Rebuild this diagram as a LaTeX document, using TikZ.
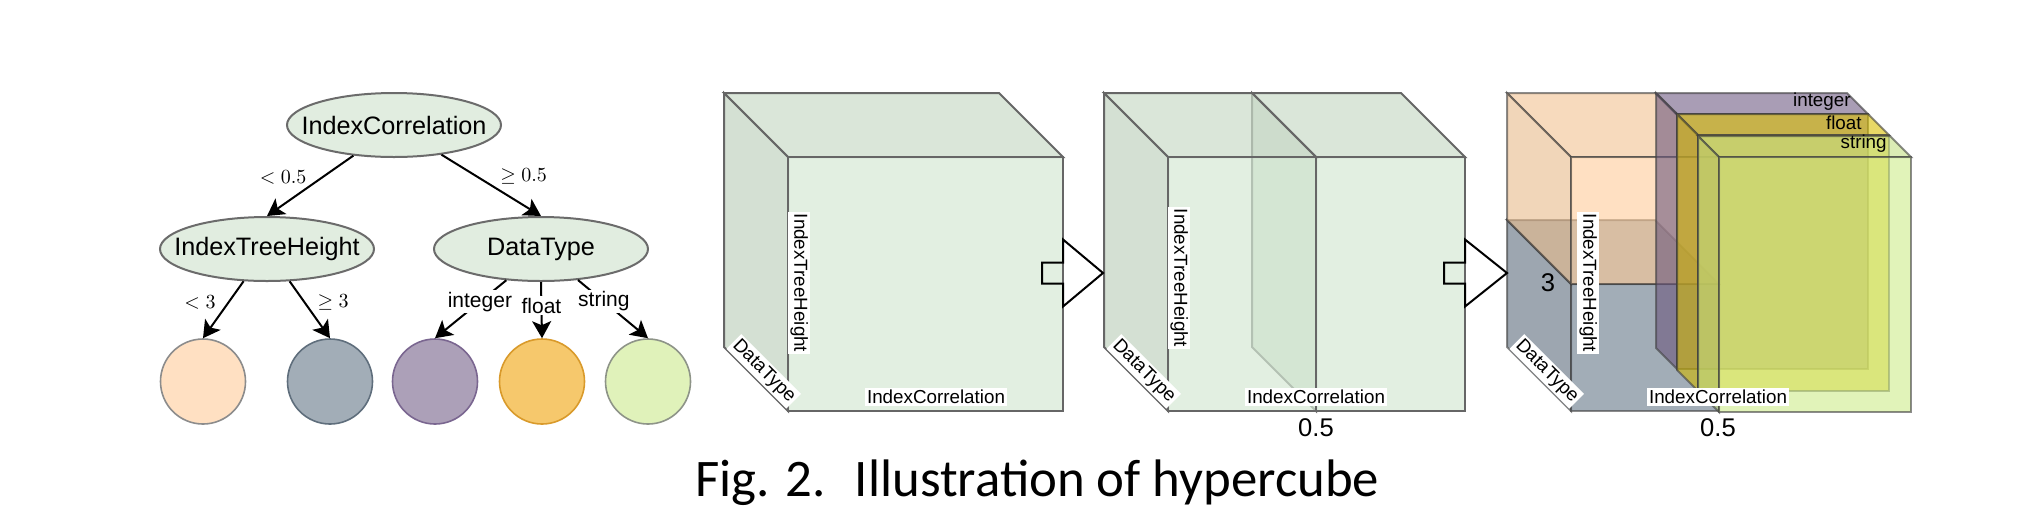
\documentclass[tikz,border=0pt]{standalone}
\usepackage{fontspec}
\usepackage{amsmath, amssymb}
\usepackage{tikz}
\usetikzlibrary{arrows.meta}
\usetikzlibrary{shapes.geometric}
\newfontfamily\arialfont{Liberation Sans}
\newfontfamily\captionfont{Carlito}

\definecolor{nodegreen}{HTML}{E1EDE0}
\definecolor{cubegreen}{HTML}{D5E8D4}
\definecolor{hcpeach}{HTML}{FFCC99}
\definecolor{hcslate}{HTML}{647687}
\definecolor{hcviolet}{HTML}{76608A}
\definecolor{hcyellow}{HTML}{E3C800}
\definecolor{hclime}{HTML}{CDEB8B}
\definecolor{leafpeach}{HTML}{FFE0C2}
\definecolor{leafslate}{HTML}{A2ADB7}
\definecolor{leafviolet}{HTML}{ACA0B8}
\definecolor{leafamber}{HTML}{F6C86C}
\definecolor{leaflime}{HTML}{E0F2BA}
\definecolor{rimslate}{HTML}{5F6E7C}
\definecolor{rimviolet}{HTML}{7A6690}
\definecolor{rimamber}{HTML}{D99A2B}
\definecolor{rimlime}{HTML}{8E9488}

\newcommand{\cuboid}[7][]{%
	\filldraw[#1, fill=#7!95!black] (#2,#3) -- ++(-#6,-#6) -- ++(#4,0) -- ++(#6,#6) -- cycle;
	\filldraw[#1, fill=#7!91!black] (#2,#3) -- ++(-#6,-#6) -- ++(0,#5) -- ++(#6,#6) -- cycle;
	\filldraw[#1, fill=#7] (#2,#3) rectangle ++(#4,#5);
}
\newcommand{\blockarrow}[2]{%
	\draw[blockarrow] ([shift={(-21,-10.5)}]#1) -- ([shift={(0,-10.5)}]#1) -- ([shift={(0,-33.5)}]#1) -- (#2)
		-- ([shift={(0,33.5)}]#1) -- ([shift={(0,10.5)}]#1) -- ([shift={(-21,10.5)}]#1) -- cycle;
}

\begin{document}
\begin{tikzpicture}[x=0.5pt, y=-0.5pt,
		treenode/.style={ellipse, draw=black!58, line width=1pt, fill=nodegreen, inner sep=0pt,
			minimum width=107pt, minimum height=32pt, font=\arialfont\fontsize{12.6}{15}\selectfont},
		leaf/.style={circle, line width=.8pt, minimum size=42.5pt, inner sep=0pt},
		treeedge/.style={-{Stealth[length=8.5pt, width=9.5pt, inset=2pt]}, line width=1pt},
		edgemath/.style={inner sep=1pt, font=\fontsize{10}{12}\selectfont},
		edgetext/.style={fill=white, inner sep=1pt, font=\arialfont\fontsize{10.5}{12}\selectfont},
		cubeface/.style={draw=black!60, line width=1pt, fill opacity=.7},
		glassface/.style={draw=black!75, draw opacity=.6, line width=1pt, fill opacity=.6},
		axislabel/.style={fill=white, inner sep=1pt, font=\arialfont\fontsize{9.4}{11}\selectfont},
		valuelabel/.style={inner sep=0pt, font=\arialfont\fontsize{12.8}{14}\selectfont},
		blockarrow/.style={draw=black, line width=1pt, line join=miter}
	]
	\useasboundingbox (0,0) rectangle (2032,526);

	\node[treenode] (corr) at (394,125) {\makebox[0pt]{IndexCorrelation}};
	\node[treenode] (height) at (267,249) {\makebox[0pt]{IndexTreeHeight}};
	\node[treenode] (dtype) at (541,249) {\makebox[0pt]{DataType}};

	\node[leaf, fill=leafpeach, draw=black!45] (lowh) at (203,381.5) {};
	\node[leaf, fill=leafslate, draw=rimslate] (highh) at (330,381.5) {};
	\node[leaf, fill=leafviolet, draw=rimviolet] (tint) at (435,381.5) {};
	\node[leaf, fill=leafamber, draw=rimamber] (tfloat) at (542,381.5) {};
	\node[leaf, fill=leaflime, draw=rimlime] (tstr) at (648,381.5) {};

	\draw[treeedge] (corr.217) -- node[edgemath, left=6pt, pos=.37] {$<0.5$} (height.north);
	\draw[treeedge] (corr.-32) -- node[edgemath, right=10pt, pos=.36] {$\geq0.5$} (dtype.north);
	\draw[treeedge] (height.234) -- node[edgemath, left=5pt, pos=.37] {$<3$} (lowh.north);
	\draw[treeedge] (height.-55) -- node[edgemath, right=5pt, pos=.37] {$\geq3$} (highh.north);
	\draw[treeedge] (dtype.222) -- node[edgetext, pos=.37] {integer} (tint.north);
	\draw[treeedge] (dtype.south) -- node[edgetext, pos=.42] {float} (tfloat.north);
	\draw[treeedge] (dtype.-40) -- node[edgetext, pos=.37] {string} (tstr.north);

	\cuboid[cubeface]{788}{157}{275}{254}{64}{cubegreen}
	\node[axislabel, rotate=-90, anchor=south] (ithA) at (788,283) {IndexTreeHeight};
	\node[axislabel, rotate=-45, anchor=south] (dtA) at (756,379) {DataType};
	\node[axislabel] (icA) at (936,397) {IndexCorrelation};

	\cuboid[cubeface]{1316}{157}{149}{254}{64}{cubegreen}
	\cuboid[cubeface]{1168}{157}{148}{254}{64}{cubegreen}
	\node[axislabel, rotate=-90, anchor=south] (ithB) at (1168,278) {IndexTreeHeight};
	\node[axislabel, rotate=-45, anchor=south] (dtB) at (1136,379) {DataType};
	\node[axislabel] (icB) at (1316,397) {IndexCorrelation};
	\node[valuelabel] (halfB) at (1316,428) {0.5};

	\cuboid[glassface]{1571}{284}{148}{127}{64}{hcslate}
	\cuboid[glassface]{1571}{157}{148}{127}{64}{hcpeach}
	\cuboid[glassface]{1677}{114}{191}{255}{21}{hcviolet}
	\cuboid[glassface]{1698}{135}{191}{256}{21}{hcyellow}
	\cuboid[glassface]{1719}{157}{192}{255}{21}{hclime}
	\node[axislabel, rotate=-90, anchor=south] (ithC) at (1577,283) {IndexTreeHeight};
	\node[axislabel, rotate=-45, anchor=south] (dtC) at (1539,379) {DataType};
	\node[axislabel] (icC) at (1718,397) {IndexCorrelation};
	\node[valuelabel] (halfC) at (1718,428) {0.5};
	\node[valuelabel] (threeC) at (1548,283) {3};
	\node[axislabel, fill=none, anchor=east] (intC) at (1853,102) {integer};
	\node[axislabel, fill=none, anchor=east] (floatC) at (1864,123) {float};
	\node[axislabel, fill=none, anchor=east] (strC) at (1889,144) {string};

	\coordinate (cubeA-e) at (1063,273);
	\coordinate (cubeB-w) at (1103,273);
	\coordinate (cubeB-e) at (1465,273);
	\coordinate (cubeC-w) at (1507,273);
	\blockarrow{cubeA-e}{cubeB-w}
	\blockarrow{cubeB-e}{cubeC-w}

	\node[anchor=base west, inner sep=0pt, font=\captionfont\fontsize{26.4}{30}\selectfont] (caption) at (695,496) {Fig. 2.\hspace{.55em}Illustration of hypercube};
\end{tikzpicture}
\end{document}
